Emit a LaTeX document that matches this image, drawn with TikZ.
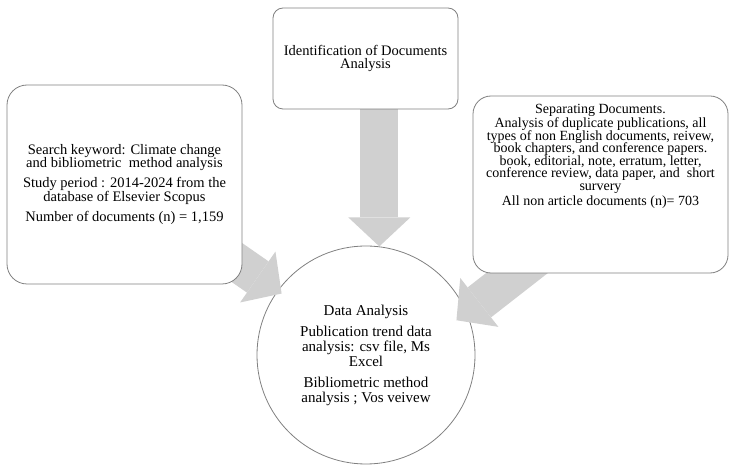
\documentclass[tikz,border=0pt]{standalone}
\usepackage{fontspec}
\setmainfont{Liberation Serif}
\usetikzlibrary{arrows.meta,calc}
\definecolor{linegray}{RGB}{128,128,128}
\definecolor{arrowgray}{RGB}{208,208,208}
\pgfdeclarelayer{back}
\pgfdeclarelayer{mid}
\pgfsetlayers{back,mid,main}
\setlength{\lineskiplimit}{-20pt}

\begin{document}
\begin{tikzpicture}[
    x = 1pt, y = -1pt,
    box/.style = {draw = linegray, line width = 0.8pt, fill = white, inner sep = 0pt},
    boxtext/.style = {align = center, font = \fontsize{14.5}{13.2}\selectfont},
    bigarrow/.style = {draw = arrowgray, line width = 38pt,
        -{Triangle[length = 29pt, width = 62pt, line width = 0pt]}}]

\useasboundingbox (0,0) rectangle (748,473);

\begin{pgfonlayer}{back}
\node[box, circle, minimum size = 218pt, align = center,
      font = \fontsize{15}{15}\selectfont] (analysis) at (366,355)
    {Data Analysis\\[6pt]
     Publication trend data\\analysis: csv file, Ms\\Excel\\[6pt]
     Bibliometric method\\analysis ; Vos veivew};
\end{pgfonlayer}

\node[box, rounded corners = 10pt, minimum width = 185pt, minimum height = 101pt,
      boxtext] (ident) at (365.5,58.5)
    {Identification of Documents\\Analysis};

\node[box, rounded corners = 20pt, minimum width = 235pt, minimum height = 199pt,
      boxtext] (search) at (124.5,184.5)
    {Search keyword: Climate change\\and bibliometric~ method analysis\\[7pt]
     Study period : 2014-2024 from the\\database of Elsevier Scopus\\[7pt]
     Number of documents (n) = 1,159};

\node[box, rounded corners = 18pt, minimum width = 255pt, minimum height = 177pt]
    (separate) at (600.5,184.5) {};
\node[boxtext, anchor = north, yshift = -5pt, font = \fontsize{14}{12.5}\selectfont]
    (septext) at (separate.north)
    {Separating Documents.\\[2pt]
     Analysis of duplicate publications, all\\types of non English documents, reivew,\\
     book chapters, and conference papers.\\book, editorial, note, erratum, letter,\\
     conference review, data paper, and~ short\\survery\\[3pt]
     All non article documents (n)= 703};

\coordinate (sepfoot) at ($(separate.center)+(30,0)$);

\begin{pgfonlayer}{mid}
\draw[bigarrow] (analysis.83 |- ident.center) -- (analysis.83);
\draw[bigarrow, shorten >= -5pt] (search.center) -- (analysis.144);
\draw[bigarrow, shorten >= -13pt] (sepfoot) -- (analysis.23);
\end{pgfonlayer}
\end{tikzpicture}
\end{document}
